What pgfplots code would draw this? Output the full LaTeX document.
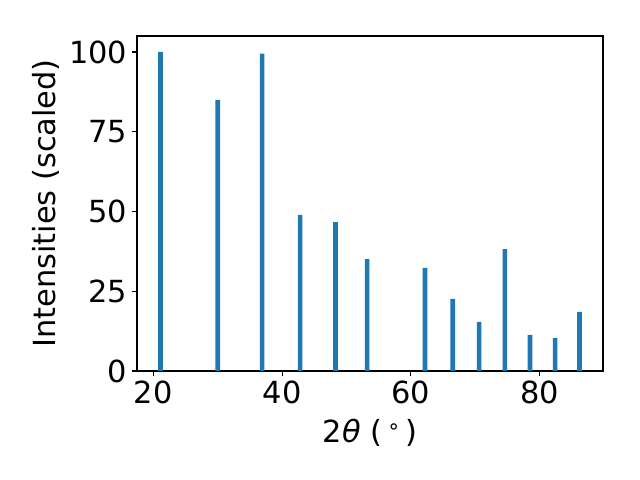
\documentclass[border=0pt]{standalone}
\usepackage{pgfplots}
\pgfplotsset{compat=1.18}
\usepackage{fontspec}
\setmainfont{DejaVu Sans}
\definecolor{mplblue}{HTML}{1F77B4}
\begin{document}
\begin{tikzpicture}[x=1in,y=1in]
\path[use as bounding box] (0,0) rectangle (6.4,4.8);
\begin{axis}[
  at={(1.37in,1.09in)}, anchor=south west,
  width=4.66in, height=3.35in, scale only axis,
  xmin=17.46, xmax=89.84, ymin=0, ymax=105,
  xtick={20,40,60,80}, ytick={0,25,50,75,100},
  tick align=outside, tick pos=left,
  major tick length=3.5pt,
  axis line style={line width=0.8pt},
  every tick/.style={black, line width=0.8pt},
  /pgf/number format/assume math mode=true,
  ticklabel style={font=\fontsize{22}{26}\selectfont},
  label style={font=\fontsize{22}{26}\selectfont},
  xlabel={2\textit{θ} (\,\raisebox{0.5ex}{\fontsize{15}{18}\selectfont ∘}\,)},
  ylabel={Intensities (scaled)},
  xlabel style={at={(axis description cs:0.5,0)}, anchor=north, yshift=-0.43in},
  ylabel style={at={(axis description cs:0,0.5)}, anchor=south, rotate=0, yshift=0.73in},
]
\addplot[ybar, bar width=0.72, bar shift=0pt, fill=mplblue, draw=none] coordinates {
(21.1,100) (30.0,85) (36.9,99.5) (42.8,48.9) (48.3,46.7) (53.2,35.1)
(62.2,32.3) (66.5,22.6) (70.6,15.4) (74.6,38.2) (78.5,11.3) (82.4,10.3) (86.2,18.5)
};
\end{axis}
\end{tikzpicture}
\end{document}
